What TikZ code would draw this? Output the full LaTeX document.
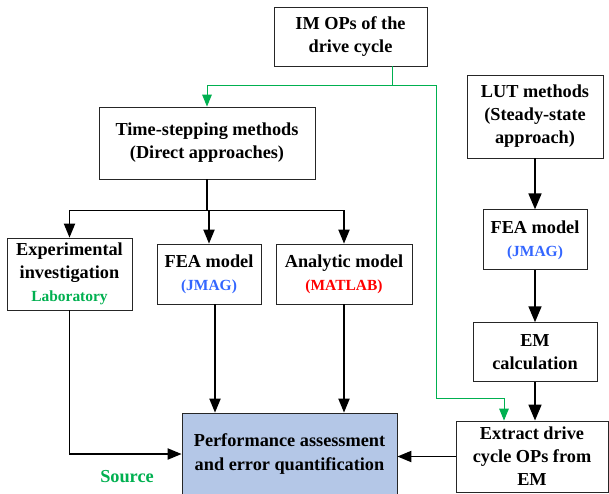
\documentclass[tikz,border=0pt]{standalone}
\usepackage{fontspec}
\setmainfont{Liberation Serif}
\usetikzlibrary{arrows.meta, calc, positioning}
\definecolor{srcgreen}{RGB}{0,176,80}
\definecolor{jmagblue}{RGB}{51,102,255}
\definecolor{matred}{RGB}{255,0,0}
\definecolor{perffill}{RGB}{180,199,231}
\newcommand{\tool}[2]{{\fontsize{11}{13}\selectfont\color{#1}#2}}

\begin{document}
\begin{tikzpicture}[
  block/.style={rectangle, draw=black!85, fill=white, line width=0.6pt, align=center, inner sep=2pt, font=\fontsize{13}{16.4}\selectfont\bfseries},
  result/.style={block, fill=perffill},
  arrow/.style={-{Triangle[length=3.5mm, width=2.8mm]}, line width=1pt},
  arrowthick/.style={-{Triangle[length=4mm, width=3.2mm]}, line width=1.6pt},
  greenline/.style={draw=srcgreen, line width=0.7pt},
  greenarrow/.style={greenline, -{Triangle[length=3mm, width=2.4mm]}}
]
\useasboundingbox (0,0) rectangle (15.225,-12.325);

% --- Eingang oben ---
\node[block, minimum width=3.825cm, minimum height=1.475cm] (imops) at (8.7625,-0.9125) {IM OPs of the\\drive cycle};
\node[block, minimum width=5.4cm, minimum height=1.8cm] (timestep) at (5.175,-3.575) {Time-stepping methods\\(Direct approaches)};

% --- LUT-Zweig rechts ---
\node[block, minimum width=3.4cm, minimum height=2.075cm] (lut) at (13.375,-2.9125) {LUT methods\\(Steady-state\\approach)};
\node[block, minimum width=2.6cm, minimum height=1.5cm, below=1.275cm of lut] (fearight) {FEA model\\\tool{jmagblue}{(JMAG)}};
\node[block, minimum width=3.1cm, minimum height=1.475cm, below=1.3cm of fearight] (emcalc) {EM\\calculation};
\node[block, minimum width=3.8cm, minimum height=1.775cm] (extract) at (13.3,-11.4125) {Extract drive\\cycle OPs from\\EM};

% --- direkte Methoden ---
\node[block, minimum width=3.125cm, minimum height=1.8cm] (exper) at (1.7375,-6.85) {Experimental\\investigation\\\tool{srcgreen}{Laboratory}};
\node[block, minimum width=2.6cm, minimum height=1.5cm] (fealeft) at (5.225,-6.85) {FEA model\\\tool{jmagblue}{(JMAG)}};
\node[block, minimum width=3.4cm, minimum height=1.5cm] (analytic) at (8.6,-6.85) {Analytic model\\\tool{matred}{(MATLAB)}};

% --- Ergebnis ---
\node[result, minimum width=5.375cm, minimum height=2.05cm] (perf) at (7.2375,-11.35) {Performance assessment\\and error quantification};
\node[text=srcgreen, font=\fontsize{13}{15}\selectfont\bfseries] (source) at (3.175,-11.925) {Source};

% Hilfspunkte
\coordinate (gsplit) at ($(imops.south)+(1.0375,-0.475)$);
\coordinate (gright) at (10.9,-9.95);
\coordinate (branch) at ($(timestep.south)+(0,-0.775)$);

% Verbindungen (gruen)
\draw[greenline] (imops.south -| gsplit) -- (gsplit);
\draw[greenarrow] (gsplit) -| (timestep.north);
\draw[greenarrow] (gsplit) -| (gright) -| ([xshift=-0.7cm]extract.north);

% Verbindungen (schwarz)
\draw[line width=1pt] (timestep.south) -- (branch);
\draw[arrow] (branch) -| (exper.north);
\draw[arrow] (branch) -| (fealeft.north);
\draw[arrow] (branch) -| (analytic.north);

\draw[arrow] ([xshift=0.15cm]fealeft.south) -- ([xshift=0.15cm]fealeft.south |- perf.north);
\draw[arrow] (analytic.south) -- (analytic.south |- perf.north);
\draw[arrow] (exper.south) |- (perf.west);
\draw[arrow] (extract.west) -- (perf.east |- extract.west);

\draw[arrowthick] (lut) -- (fearight);
\draw[arrowthick] (fearight) -- (emcalc);
\draw[arrowthick] (emcalc.south) -- (emcalc.south |- extract.north);
\end{tikzpicture}
\end{document}
